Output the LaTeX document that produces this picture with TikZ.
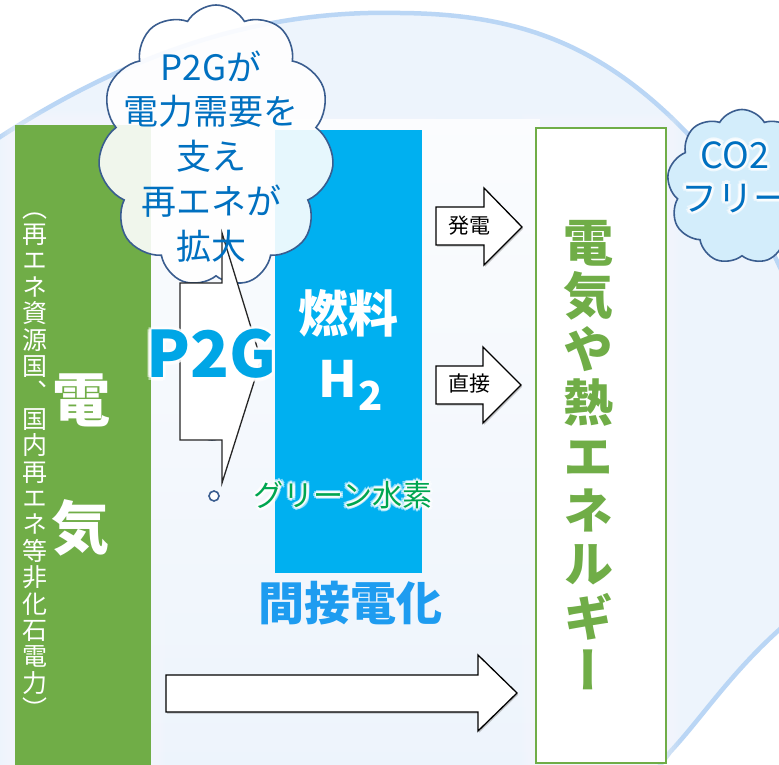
\documentclass[tikz,border=0pt]{standalone}
\usepackage{fontspec}
\setmainfont{Noto Sans CJK JP}
\newfontfamily\jpv{Noto Sans CJK JP}[RawFeature=+vert]
\usetikzlibrary{shapes.symbols,shadows,fadings,calc}
\definecolor{bgblue}{HTML}{EDF4FC}
\definecolor{arcblue}{HTML}{BAD6F5}
\definecolor{colgreen}{HTML}{70AD47}
\definecolor{h2blue}{HTML}{00B0F0}
\definecolor{p2gblue}{HTML}{00A6E6}
\definecolor{cloudtxt}{HTML}{0070C0}
\definecolor{cloudedge}{HTML}{3A5D8F}
\definecolor{gtxt}{HTML}{00A650}
\definecolor{kansetsu}{HTML}{1E9CF0}
\definecolor{co2fill}{HTML}{D3EDFB}
\newcommand\fs[1]{\fontsize{#1}{#1}\selectfont}
\newcommand\glownode[4]{%
  \foreach \rr [count=\ri] in {1.6,3.2}{%
    \foreach \a in {0,45,...,315}{%
      \node[#3, text=white, text opacity=0.55] (#1-g-\a-\ri) at ($#2+(\a:\rr)$) {#4};}}%
  \node[#3] (#1) at #2 {#4};}
\begin{document}
\begin{tikzpicture}[x=1pt,y=-1pt,
  box/.style={inner sep=0pt, outer sep=0pt, anchor=north west},
  blockarrow/.style={fill=white, draw=black, line width=1.3pt, line join=miter,
     drop shadow={opacity=0.45, shadow xshift=1.2pt, shadow yshift=-1.6pt}},
  cloudstroke/.style={draw=cloudedge, line width=1.6pt},
  glowpanel/.style={white, fill opacity=0.07}]
\useasboundingbox (0,0) rectangle (779,765);
\fill[white] (0,0) rectangle (779,765);
\begin{scope}
  \clip (0,0) rectangle (779,765);
  \fill[bgblue] (-40,165) -- (0,137) .. controls (150,40) and (280,10) .. (400,13)
     .. controls (530,14) and (620,50) .. (720,170)
     .. controls (820,290) and (880,540) .. (779,630)
     .. controls (730,674) and (700,720) .. (670,752) -- (640,792) -- (-40,800) -- cycle;
  \draw[arcblue, line width=4.5pt] (-40,165) -- (0,137) .. controls (150,40) and (280,10) .. (400,13)
     .. controls (530,14) and (620,50) .. (720,170)
     .. controls (820,290) and (880,540) .. (779,630)
     .. controls (730,674) and (700,720) .. (670,752) -- (640,792);
  \fill[white, fill opacity=0.8, path fading=south] (151,118) rectangle (540,800);
  \foreach \g in {2,4,...,14}{
    \fill[glowpanel] (15-\g,125-\g) rectangle (151+\g,780);
    \fill[glowpanel] (275-\g,130-\g) rectangle (422+\g,573+\g);
    \fill[glowpanel] (536-\g,128-\g) rectangle (666+\g,780);
  }
\end{scope}

% columns
\node[box, fill=colgreen, minimum width=136, minimum height=645] (denki) at (15,125) {};
\node[box, fill=h2blue, minimum width=147, minimum height=443] (h2) at (275,130) {};
\node[box, fill=white, draw=colgreen, line width=1.5pt, minimum width=130, minimum height=635] (ene) at (536,128) {};

% vertical text in green column
\foreach \c [count=\i] in {（,再,エ,ネ,資,源,国,、,国,内,再,エ,ネ,等,非,化,石,電,力,）}
  \node[inner sep=0pt, text=white, font=\jpv\fs{25}, text height=22pt, text depth=3pt]
     (src\i) at (35, 207.6+26.4*\i-26.4) {\c};
\node[inner sep=0pt, text=white, font=\bfseries\fs{58}] (den) at (81,400) {電};
\node[inner sep=0pt, text=white, font=\bfseries\fs{58}] (ki) at (80,528) {気};

% vertical text in energy box
\foreach \c [count=\i] in {電,気,や,熱,エ,ネ,ル,ギ,ー}
  \node[inner sep=0pt, text=colgreen, font=\jpv\bfseries\fs{50}, text height=44pt, text depth=6pt]
     (en\i) at (588, 242+53.6*\i-53.6) {\c};

% fuel H2
\node[inner sep=0pt, text=white, font=\bfseries\fs{50}] (nenryo) at (348,313) {燃料};
\node[inner sep=0pt, text=white, font=\bfseries\fs{50}, anchor=base west] (h2txt) at (318,397)
   {H\kern2pt\raisebox{-13pt}{\fs{40}2}};

% callout bubbles
\node[circle, cloudstroke, fill=white, minimum size=30, inner sep=0pt] (tail1) at (212,425) {};
\node[circle, cloudstroke, fill=white, minimum size=10, inner sep=0pt] (tail2) at (214,496) {};
\node[cloud, cloud puffs=11, cloud puff arc=120, aspect=0.86, cloudstroke, fill=white, fill opacity=0.9,
      minimum width=236, minimum height=282, inner sep=0pt] (callout) at (216,146) {};

% P2G block arrow
\draw[fill=white, draw=black!85, line width=1.3pt, line join=miter]
  (180,283) -- (222,283) -- (222,233) -- (261,360) -- (222,483) -- (222,440) -- (180,440) -- cycle;

\node[text=cloudtxt, font=\fontsize{35}{44.75}\selectfont, align=center, inner sep=0pt]
   (callouttxt) at (211,156.3) {P2Gが\\電力需要を\\支え\\再エネが\\拡大};

\glownode{p2g}{(211,354)}{font=\bfseries\fs{64}, text=p2gblue, inner sep=0pt}{P2G}
\glownode{green}{(343,495)}{font=\fs{30}, text=gtxt, inner sep=0pt}{グリーン水素}
\node[text=kansetsu, font=\bfseries\fs{46}, inner sep=0pt] (kansetsu) at (350,603) {間接電化};

% right arrows
\draw[blockarrow] (436,207) -- (484,207) -- (484,188) -- (522,227) -- (484,265) -- (484,245) -- (436,245) -- cycle;
\node[font=\fs{21}, inner sep=0pt] (hatsuden) at (469,226) {発電};
\draw[blockarrow] (436,366) -- (483,366) -- (483,347) -- (521,385) -- (483,423) -- (483,404) -- (436,404) -- cycle;
\node[font=\fs{21}, inner sep=0pt] (chokusetsu) at (469,383) {直接};
\draw[blockarrow] (166,675) -- (478,675) -- (478,655) -- (517,693) -- (478,731) -- (478,712) -- (166,712) -- cycle;

% CO2 cloud
\begin{scope}
  \clip (0,0) rectangle (779,765);
  \node[cloud, cloud puffs=9, cloud puff arc=120, cloudstroke, fill=co2fill,
        minimum width=150, minimum height=155, inner sep=0pt] (co2) at (742,187) {};
\end{scope}
\glownode{co2t}{(735,177)}{font=\fontsize{36}{43}\selectfont, align=center, text=cloudtxt, inner sep=0pt}{CO2\\フリー}
\end{tikzpicture}
\end{document}
